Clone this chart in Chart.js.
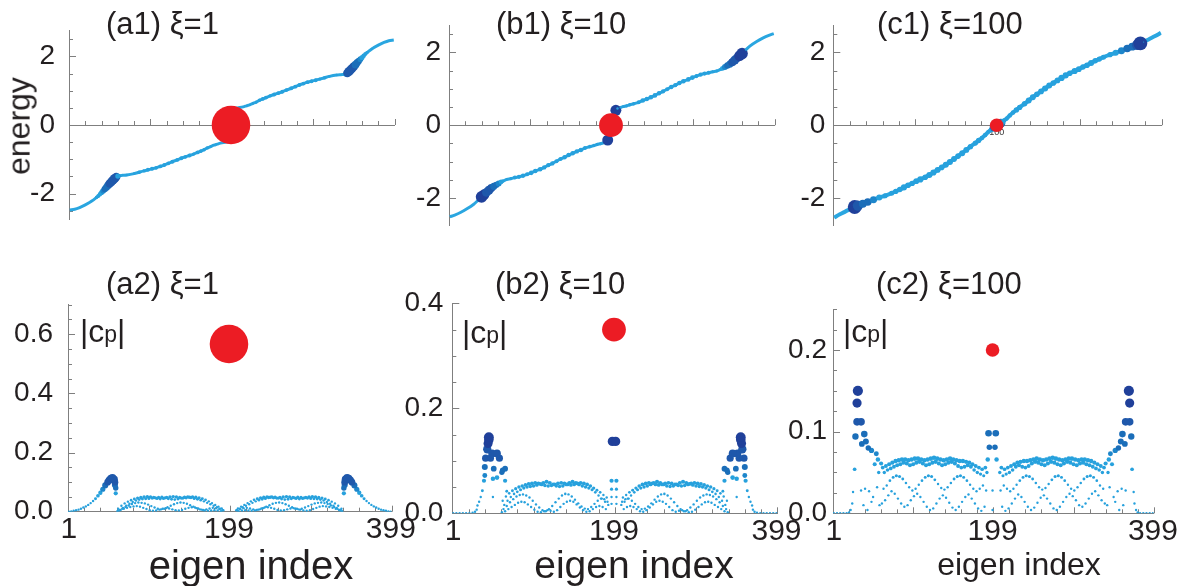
<!DOCTYPE html>
<html>
<head>
<meta charset="utf-8">
<script src="https://cdn.jsdelivr.net/npm/chart.js@4/dist/chart.umd.min.js"></script>
<style>
body { margin: 0; background: #fff; }
#fig { position: relative; width: 1181px; height: 586px; overflow: hidden; font-family: 'Liberation Sans', Arial, sans-serif; color: #231f20; }
#fig canvas { position: absolute; }
.t { position: absolute; white-space: nowrap; line-height: 1.15; }
</style>
</head>
<body>
<div id="fig">
  <canvas id="a1" width="400" height="250" style="left:0px;top:0px"></canvas>
  <canvas id="b1" width="400" height="250" style="left:385px;top:0px"></canvas>
  <canvas id="c1" width="411" height="250" style="left:770px;top:0px"></canvas>
  <canvas id="a2" width="430" height="326" style="left:0px;top:260px"></canvas>
  <canvas id="b2" width="430" height="326" style="left:385px;top:260px"></canvas>
  <canvas id="c2" width="411" height="326" style="left:770px;top:260px"></canvas>

  <div class="t" style="left:106px;top:6px;font-size:31px">(a1) ξ=1</div>
  <div class="t" style="left:496px;top:6px;font-size:31px">(b1) ξ=10</div>
  <div class="t" style="left:877px;top:6px;font-size:31px">(c1) ξ=100</div>
  <div class="t" style="left:106px;top:266px;font-size:31px">(a2) ξ=1</div>
  <div class="t" style="left:495px;top:266px;font-size:31px">(b2) ξ=10</div>
  <div class="t" style="left:876px;top:266px;font-size:31px">(c2) ξ=100</div>

  <div class="t" style="left:19px;top:126px;font-size:32px;transform:translate(-50%,-50%) rotate(-90deg)">energy</div>

  <div class="t" style="left:80px;top:313px;font-size:32px">|c<span style="font-size:23px">p</span>|</div>
  <div class="t" style="left:462px;top:314px;font-size:32px">|c<span style="font-size:23px">p</span>|</div>
  <div class="t" style="left:843px;top:313px;font-size:32px">|c<span style="font-size:23px">p</span>|</div>

  <div class="t" style="left:251px;top:542px;font-size:40px;transform:translateX(-50%)">eigen index</div>
  <div class="t" style="left:634px;top:543px;font-size:39px;transform:translateX(-50%)">eigen index</div>
  <div class="t" style="left:1019px;top:546px;font-size:32px;transform:translateX(-50%)">eigen index</div>
</div>
<script>
// tick labels
const idxTicks = [1, 199, 399];
const energyTicks = [-2, 0, 2];
const a2Ticks = [0, 0.2, 0.4, 0.6];
const b2Ticks = [0, 0.2, 0.4];
const c2Ticks = [0, 0.1, 0.2];

// top row: eigen index, energy, |c_p| weight of each sampled state
const a1Idx = [1,7,13,20,28,34,36,38,40,42,44,46,48,50,52,54,56,58,60,61,66,71,80,86,92,97,102,107,112,117,122,127,133,138,143,148,153,158,162,166,170,174,178,182,186,190,193,196,198,199,202,204,207,210,214,218,222,226,230,234,238,242,247,252,257,262,267,273,278,283,288,293,298,303,308,314,320,329,334,339,340,342,344,346,348,350,352,354,356,358,360,362,364,366,372,380,387,393,399];
const a1E = [-2.48,-2.46,-2.41,-2.33,-2.22,-2.11,-2.07,-2.02,-1.97,-1.92,-1.87,-1.82,-1.76,-1.71,-1.66,-1.61,-1.56,-1.52,-1.49,-1.48,-1.47,-1.46,-1.42,-1.38,-1.34,-1.31,-1.28,-1.25,-1.21,-1.17,-1.12,-1.07,-1.02,-0.97,-0.93,-0.89,-0.85,-0.8,-0.76,-0.72,-0.67,-0.63,-0.59,-0.56,-0.53,-0.51,-0.5,-0.49,-0.49,0,0.49,0.49,0.5,0.51,0.53,0.56,0.59,0.63,0.67,0.72,0.76,0.8,0.85,0.89,0.93,0.97,1.02,1.07,1.12,1.17,1.21,1.25,1.28,1.31,1.34,1.38,1.42,1.46,1.47,1.48,1.49,1.52,1.56,1.61,1.66,1.71,1.76,1.82,1.87,1.92,1.97,2.02,2.07,2.11,2.22,2.33,2.41,2.46,2.48];
const a1W = [0,0.003,0.007,0.015,0.029,0.044,0.05,0.057,0.064,0.072,0.08,0.089,0.096,0.103,0.11,0.113,0.114,0.105,0.065,0.004,0.02,0.03,0.033,0.046,0.043,0.05,0.05,0.047,0.048,0.049,0.048,0.05,0.046,0.048,0.046,0.05,0.042,0.049,0.047,0.044,0.04,0.035,0.029,0.023,0.017,0.011,0.006,0.002,0.001,0,0.001,0.002,0.006,0.011,0.017,0.023,0.029,0.035,0.04,0.044,0.047,0.049,0.042,0.05,0.046,0.048,0.046,0.05,0.048,0.049,0.048,0.047,0.05,0.05,0.043,0.046,0.033,0.03,0.02,0.004,0.065,0.105,0.114,0.113,0.11,0.103,0.096,0.089,0.08,0.072,0.064,0.057,0.05,0.044,0.029,0.015,0.007,0.003,0];

const b1Idx = [1,7,14,22,30,35,40,43,46,49,52,55,58,61,64,66,71,76,81,86,91,96,101,106,112,117,122,127,132,137,142,147,152,157,162,167,173,178,182,186,189,193,195,199,205,207,211,214,218,222,227,233,238,243,248,253,258,263,268,273,278,283,288,294,299,304,309,314,319,324,329,334,336,339,342,345,348,351,354,357,360,365,370,378,386,393,399];
const b1E = [-2.52,-2.47,-2.4,-2.3,-2.18,-2.08,-1.97,-1.91,-1.85,-1.79,-1.73,-1.68,-1.64,-1.6,-1.56,-1.54,-1.49,-1.47,-1.44,-1.42,-1.39,-1.35,-1.31,-1.26,-1.21,-1.16,-1.1,-1.05,-0.99,-0.93,-0.88,-0.82,-0.77,-0.72,-0.68,-0.63,-0.59,-0.56,-0.53,-0.51,-0.49,-0.46,-0.41,0,0.41,0.46,0.49,0.51,0.53,0.56,0.59,0.63,0.68,0.72,0.77,0.82,0.88,0.93,0.99,1.05,1.1,1.16,1.21,1.26,1.31,1.35,1.39,1.42,1.44,1.47,1.49,1.54,1.56,1.6,1.64,1.68,1.73,1.79,1.85,1.91,1.97,2.08,2.18,2.3,2.4,2.47,2.52];
const b1W = [0,0,0,0,0.007,0.031,0.145,0.133,0.11,0.114,0.1,0.09,0.08,0.075,0.06,0.04,0.036,0.04,0.05,0.052,0.054,0.051,0.058,0.057,0.058,0.055,0.053,0.055,0.051,0.052,0.055,0.058,0.058,0.055,0.057,0.05,0.045,0.044,0.04,0.035,0.03,0.03,0.137,0,0.137,0.03,0.03,0.035,0.04,0.044,0.045,0.05,0.057,0.055,0.058,0.058,0.055,0.052,0.051,0.055,0.053,0.055,0.058,0.057,0.058,0.051,0.054,0.052,0.05,0.04,0.036,0.04,0.06,0.075,0.08,0.09,0.1,0.114,0.11,0.133,0.145,0.031,0.007,0,0,0,0];

const c1Idx = [1,8,15,22,26,30,36,42,49,56,63,71,76,81,86,91,96,101,106,112,117,122,127,132,137,142,147,152,157,162,167,173,177,181,185,189,192,194,196,199,204,206,208,211,215,219,223,227,233,238,243,248,253,258,263,268,273,278,283,288,294,299,304,309,314,319,324,329,337,344,351,358,364,370,374,378,385,392,399];
const c1E = [-2.54,-2.45,-2.37,-2.29,-2.25,-2.21,-2.16,-2.11,-2.05,-1.99,-1.94,-1.87,-1.82,-1.77,-1.71,-1.65,-1.6,-1.54,-1.49,-1.43,-1.37,-1.3,-1.23,-1.16,-1.09,-1.01,-0.93,-0.85,-0.77,-0.68,-0.59,-0.49,-0.42,-0.35,-0.27,-0.18,-0.13,-0.09,-0.05,0,0.05,0.09,0.13,0.18,0.27,0.35,0.42,0.49,0.59,0.68,0.77,0.85,0.93,1.01,1.09,1.16,1.23,1.3,1.37,1.43,1.49,1.54,1.6,1.65,1.71,1.77,1.82,1.87,1.94,1.99,2.05,2.11,2.16,2.21,2.25,2.29,2.37,2.45,2.54];
const c1W = [0,0,0,0.012,0.15,0.112,0.085,0.082,0.076,0.066,0.056,0.055,0.057,0.059,0.066,0.061,0.059,0.062,0.067,0.061,0.066,0.067,0.063,0.061,0.065,0.066,0.063,0.061,0.064,0.064,0.059,0.057,0.058,0.05,0.048,0.046,0.05,0.065,0.098,0,0.098,0.065,0.05,0.046,0.048,0.05,0.058,0.057,0.059,0.064,0.064,0.061,0.063,0.066,0.065,0.061,0.063,0.067,0.066,0.061,0.067,0.062,0.059,0.061,0.066,0.059,0.057,0.055,0.056,0.066,0.076,0.082,0.085,0.112,0.15,0.012,0,0,0];

// the state at index 199 (red) : |c_p| of each panel
const redIdx = 199;
const a2Red = 0.567, b2Red = 0.35, c2Red = 0.2;

// bottom row: interleaved branches of |c_p|, left and right of the centre
const arcA_L = [62,66,70,74,78,82,86,90,94,98,102,106,110,114,118,122,126,130,134,138,142,146,150,154,158,162,166,170,174,178,182,186,190];
const arcA_R = [338,334,330,326,322,318,314,310,306,302,298,294,290,286,282,278,274,270,266,262,258,254,250,246,242,238,234,230,226,222,218,214,210];
const arcB_L = [64,68,72,76,80,84,88,92,96,100,104,108,112,116,120,124,128,132,136,140,144,148,152,156,160,164,168,172,176,180,184,188,192];
const arcB_R = [336,332,328,324,320,316,312,308,304,300,296,292,288,284,280,276,272,268,264,260,256,252,248,244,240,236,232,228,224,220,216,212,208];
const arcC_L = [63,67,71,75,79,83,87,91,95,99,103,107,111,115,119,123,127,131,135,139,143,147,151,155,159,163,167,171,175,179,183,187,191];
const arcC_R = [337,333,329,325,321,317,313,309,305,301,297,293,289,285,281,277,273,269,265,261,257,253,249,245,241,237,233,229,225,221,217,213,209];
const arcD_L = [61,65,69,73,77,81,85,89,93,97,101,105,109,113,117,121,125,129,133,137,141,145,149,153,157,161,165,169,173,177,181,185,189];
const arcD_R = [339,335,331,327,323,319,315,311,307,303,299,295,291,287,283,279,275,271,267,263,259,255,251,247,243,239,235,231,227,223,219,215,211];

const a2A = [0.01,0.02,0.028,0.034,0.039,0.043,0.046,0.048,0.05,0.051,0.05,0.048,0.045,0.043,0.045,0.048,0.05,0.051,0.05,0.048,0.046,0.047,0.049,0.05,0.049,0.047,0.044,0.04,0.035,0.029,0.023,0.017,0.011];
const a2B = [0.006,0.013,0.02,0.027,0.033,0.038,0.041,0.043,0.044,0.045,0.046,0.047,0.048,0.049,0.047,0.044,0.042,0.041,0.043,0.046,0.049,0.05,0.048,0.045,0.042,0.039,0.035,0.03,0.025,0.02,0.015,0.01,0.005];
const a2C = [0.004,0.01,0.016,0.021,0.026,0.029,0.031,0.03,0.028,0.024,0.019,0.014,0.01,0.008,0.01,0.015,0.02,0.025,0.029,0.031,0.03,0.027,0.022,0.017,0.012,0.008,0.006,0.008,0.011,0.013,0.012,0.009,0.005];
const a2D = [0.002,0.006,0.01,0.013,0.016,0.018,0.019,0.017,0.013,0.009,0.005,0.003,0.004,0.007,0.01,0.012,0.011,0.008,0.005,0.004,0.006,0.01,0.013,0.015,0.014,0.011,0.007,0.004,0.003,0.004,0.005,0.004,0.002];
const a2EdgeL = [1,4,7,10,13,16,19,22,25,28,31,34,37,40,43,46,49,51,53,55,57,58,58,59,59];
const a2EdgeR = [399,396,393,390,387,384,381,378,375,372,369,366,363,360,357,354,351,349,347,345,343,342,342,341,341];
const a2Edge = [0,0.001,0.003,0.005,0.007,0.01,0.014,0.018,0.023,0.029,0.036,0.044,0.054,0.064,0.076,0.089,0.1,0.107,0.112,0.114,0.11,0.1,0.09,0.08,0.062];

const b2A = [0.024,0.032,0.038,0.043,0.047,0.05,0.052,0.054,0.056,0.057,0.058,0.057,0.055,0.053,0.052,0.053,0.055,0.057,0.058,0.057,0.055,0.054,0.055,0.057,0.058,0.057,0.055,0.052,0.048,0.044,0.04,0.035,0.03];
const b2B = [0.016,0.024,0.031,0.037,0.041,0.045,0.048,0.05,0.051,0.052,0.054,0.056,0.058,0.06,0.058,0.055,0.052,0.051,0.052,0.055,0.058,0.06,0.058,0.055,0.052,0.05,0.048,0.045,0.04,0.034,0.028,0.022,0.016];
const b2C = [0.008,0.014,0.021,0.027,0.032,0.035,0.036,0.034,0.03,0.024,0.017,0.011,0.006,0.004,0.008,0.014,0.021,0.028,0.034,0.037,0.036,0.032,0.026,0.019,0.013,0.009,0.008,0.012,0.018,0.024,0.028,0.027,0.022];
const b2D = [0.002,0.004,0.008,0.012,0.016,0.02,0.022,0.021,0.017,0.012,0.007,0.003,0.002,0.004,0.006,0.005,0.003,0.006,0.012,0.018,0.022,0.024,0.022,0.017,0.011,0.006,0.003,0.004,0.008,0.012,0.014,0.012,0.008];
const b2EdgeL = [1,5,9,13,17,21,25,28,30,31,33,35,37,39,40,40,41,43,44,45,45,47,49,51,50,50,55,55,58,61,62,65,65,67];
const b2EdgeR = [399,395,391,387,383,379,375,372,370,369,367,365,363,361,360,360,359,357,356,355,355,353,351,349,350,350,345,345,342,339,338,335,335,333];
const b2Edge = [0,0,0,0,0,0,0.001,0.003,0.007,0.015,0.022,0.031,0.043,0.062,0.072,0.088,0.105,0.122,0.133,0.14,0.145,0.105,0.114,0.085,0.066,0.031,0.114,0.068,0.105,0.078,0.082,0.085,0.062,0.042];
const b2MidIdx = [196,196,196,196,197,202,202,202,202,201];
const b2Mid = [0.062,0.046,0.031,0.018,0.137,0.062,0.046,0.031,0.018,0.137];

const c2A = [0.056,0.058,0.06,0.062,0.064,0.065,0.066,0.066,0.065,0.066,0.067,0.067,0.066,0.065,0.066,0.067,0.068,0.067,0.066,0.065,0.066,0.067,0.066,0.065,0.064,0.064,0.063,0.062,0.06,0.058,0.056,0.054,0.056];
const c2B = [0.05,0.053,0.055,0.057,0.059,0.06,0.062,0.061,0.059,0.06,0.062,0.063,0.061,0.059,0.06,0.062,0.063,0.061,0.059,0.06,0.062,0.063,0.061,0.058,0.056,0.057,0.059,0.057,0.053,0.05,0.048,0.046,0.05];
const c2C = [0.03,0.034,0.04,0.044,0.046,0.045,0.042,0.037,0.032,0.028,0.03,0.035,0.04,0.044,0.046,0.045,0.041,0.036,0.031,0.029,0.032,0.037,0.042,0.045,0.046,0.044,0.04,0.035,0.03,0.027,0.03,0.034,0.028];
const c2D = [0.012,0.016,0.022,0.027,0.024,0.018,0.012,0.008,0.01,0.016,0.021,0.024,0.02,0.014,0.008,0.004,0.006,0.012,0.018,0.022,0.019,0.013,0.007,0.004,0.008,0.014,0.02,0.023,0.018,0.012,0.006,0.003,0.008];
const c2EdgeL = [1,5,9,13,17,20,22,24,25,27,28,30,30,31,35,36,39,41,44,48,54,56,60,52,57,35,40,45,50,55,38,48,58,43];
const c2EdgeR = [399,395,391,387,383,380,378,376,375,373,372,370,370,369,365,364,361,359,356,352,346,344,340,348,343,365,360,355,350,345,362,352,342,357];
const c2Edge = [0,0,0,0,0,0.001,0.004,0.012,0.026,0.054,0.094,0.112,0.135,0.15,0.112,0.085,0.097,0.088,0.08,0.077,0.073,0.066,0.061,0.06,0.05,0.028,0.03,0.027,0.02,0.032,0.01,0.014,0.01,0.004];
const c2MidIdx = [194,203,195,202,193,204,199,199];
const c2Mid = [0.098,0.098,0.081,0.081,0.066,0.066,0.028,0.004];

const AXIS = '#7f7f7f';
const TXT = '#231f20';
const LINE = '#2aa6e0';
const RED = '#ec1c24';

Chart.defaults.font.family = "'Liberation Sans', Arial, sans-serif";
Chart.defaults.color = TXT;

function dotColour(v) {
    if (v >= 0.13) return '#20409a';
    if (v >= 0.1) return '#1f58ab';
    if (v >= 0.078) return '#1b6eb9';
    if (v >= 0.07) return '#1d86cb';
    return '#27a1dd';
}

// ticks drawn inside the axes, like the original figure
const innerTicks = {
    id: 'innerTicks',
    beforeDatasetsDraw(chart, args, o) {
        const { ctx, scales: { x, y } } = chart;
        const y0 = y.getPixelForValue(0);
        const x0 = x.getPixelForValue(0);
        ctx.save();
        ctx.strokeStyle = AXIS;
        ctx.lineWidth = 1;
        ctx.beginPath();
        for (let k = 1; k * 20 <= 400; k++) {
            const px = Math.round(x.getPixelForValue(k * 20)) + 0.5;
            const len = k % 5 === 0 ? 6 : 4;
            ctx.moveTo(px, y0);
            ctx.lineTo(px, y0 - len);
        }
        const n0 = Math.ceil(y.min / o.yStep - 1e-6);
        const n1 = Math.floor(y.max / o.yStep + 1e-6);
        for (let k = n0; k <= n1; k++) {
            if (k === 0) continue;
            const v = k * o.yStep;
            const py = Math.round(y.getPixelForValue(v)) + 0.5;
            const major = o.yMajor.some(m => Math.abs(m - v) < 1e-6);
            ctx.moveTo(x0, py);
            ctx.lineTo(x0 + (major ? 7 : 4), py);
        }
        ctx.stroke();
        ctx.restore();
    }
};
Chart.register(innerTicks);

function pts(idx, val) {
    return idx.map((x, i) => ({ x: x, y: val[i] }));
}

function topChart(id, idx, energy, weight, redValue, lay) {
    new Chart(document.getElementById(id), {
        type: 'scatter',
        data: {
            datasets: [
                {
                    data: [{ x: redIdx, y: 0 }],
                    pointRadius: 34 * redValue,
                    backgroundColor: RED,
                    borderWidth: 0
                },
                {
                    data: pts(idx, energy),
                    showLine: true,
                    borderColor: LINE,
                    borderWidth: lay.lw,
                    cubicInterpolationMode: 'monotone',
                    pointRadius: c => lay.k * weight[c.dataIndex],
                    pointBackgroundColor: c => dotColour(weight[c.dataIndex]),
                    pointBorderWidth: 0
                }
            ]
        },
        options: {
            responsive: false,
            animation: false,
            events: [],
            layout: { autoPadding: false, padding: { left: 0, right: lay.pr, top: 25.2, bottom: 18.6 } },
            plugins: {
                legend: { display: false },
                tooltip: { enabled: false },
                innerTicks: { yStep: 0.5, yMajor: energyTicks }
            },
            scales: {
                x: {
                    type: 'linear', min: 0, max: 400, position: { y: 0 },
                    grid: { display: false, drawTicks: false },
                    border: { color: AXIS },
                    ticks: { display: lay.mid, font: { size: 9 }, color: '#333', padding: 2, autoSkip: false, maxRotation: 0, callback: () => '100' },
                    afterBuildTicks: s => { s.ticks = [{ value: redIdx }]; }
                },
                y: {
                    min: -2.75, max: 2.75,
                    grid: { display: false, drawTicks: false },
                    border: { color: AXIS },
                    ticks: { font: { size: 28 }, color: TXT, padding: lay.tp, callback: v => String(v) },
                    afterBuildTicks: s => { s.ticks = energyTicks.map(v => ({ value: v })); },
                    afterFit: s => { s.width = lay.yw; }
                }
            }
        }
    });
}

function bottomChart(id, points, redValue, ticks, lay) {
    points.sort((p, q) => p.y - q.y);
    new Chart(document.getElementById(id), {
        type: 'scatter',
        data: {
            datasets: [
                {
                    data: [{ x: redIdx, y: redValue }],
                    pointRadius: 34 * redValue,
                    backgroundColor: RED,
                    borderWidth: 0
                },
                {
                    data: points,
                    pointRadius: c => Math.max(1.2, 34 * c.raw.y),
                    pointBackgroundColor: c => dotColour(c.raw.y),
                    pointBorderWidth: 0
                }
            ]
        },
        options: {
            responsive: false,
            animation: false,
            events: [],
            layout: { autoPadding: false, padding: { left: 0, right: lay.pr, top: lay.pt, bottom: lay.pb } },
            plugins: {
                legend: { display: false },
                tooltip: { enabled: false },
                innerTicks: { yStep: lay.step, yMajor: ticks }
            },
            scales: {
                x: {
                    type: 'linear', min: 0, max: 400,
                    grid: { display: false, drawTicks: false },
                    border: { color: AXIS },
                    ticks: { font: { size: 30, lineHeight: 1 }, color: TXT, padding: 3, autoSkip: false, maxRotation: 0 },
                    afterBuildTicks: s => { s.ticks = idxTicks.map(v => ({ value: v })); },
                    afterFit: s => { s.height = 40; }
                },
                y: {
                    min: 0, max: lay.ymax,
                    grid: { display: false, drawTicks: false },
                    border: { color: AXIS },
                    ticks: { font: { size: 28 }, color: TXT, padding: lay.tp, callback: v => v.toFixed(1) },
                    afterBuildTicks: s => { s.ticks = ticks.map(v => ({ value: v })); },
                    afterFit: s => { s.width = lay.yw; }
                }
            }
        }
    });
}

topChart('a1', a1Idx, a1E, a1W, a2Red, { yw: 69, pr: 5.4, tp: 14, lw: 3, k: 40, mid: false });
topChart('b1', b1Idx, b1E, b1W, b2Red, { yw: 64, pr: 10.4, tp: 8, lw: 3, k: 40, mid: true });
topChart('c1', c1Idx, c1E, c1W, c2Red, { yw: 63.3, pr: 19.3, tp: 8, lw: 4, k: 46, mid: true });

const a2Points = [].concat(
    pts(arcA_L, a2A), pts(arcA_R, a2A), pts(arcB_L, a2B), pts(arcB_R, a2B),
    pts(arcC_L, a2C), pts(arcC_R, a2C), pts(arcD_L, a2D), pts(arcD_R, a2D),
    pts(a2EdgeL, a2Edge), pts(a2EdgeR, a2Edge));
const b2Points = [].concat(
    pts(arcA_L, b2A), pts(arcA_R, b2A), pts(arcB_L, b2B), pts(arcB_R, b2B),
    pts(arcC_L, b2C), pts(arcC_R, b2C), pts(arcD_L, b2D), pts(arcD_R, b2D),
    pts(b2EdgeL, b2Edge), pts(b2EdgeR, b2Edge), pts(b2MidIdx, b2Mid));
const c2Points = [].concat(
    pts(arcA_L, c2A), pts(arcA_R, c2A), pts(arcB_L, c2B), pts(arcB_R, c2B),
    pts(arcC_L, c2C), pts(arcC_R, c2C), pts(arcD_L, c2D), pts(arcD_R, c2D),
    pts(c2EdgeL, c2Edge), pts(c2EdgeR, c2Edge), pts(c2MidIdx, c2Mid));

bottomChart('a2', a2Points, a2Red, a2Ticks, { yw: 68, pr: 38.4, pt: 44.7, pb: 34.3, ymax: 0.7, step: 0.05, tp: 15 });
bottomChart('b2', b2Points, b2Red, b2Ticks, { yw: 67.3, pr: 37.7, pt: 43.3, pb: 32.7, ymax: 0.4, step: 0.05, tp: 9 });
bottomChart('c2', c2Points, c2Red, c2Ticks, { yw: 63, pr: 26, pt: 49.2, pb: 32.7, ymax: 0.25, step: 0.025, tp: 6 });
</script>
</body>
</html>
